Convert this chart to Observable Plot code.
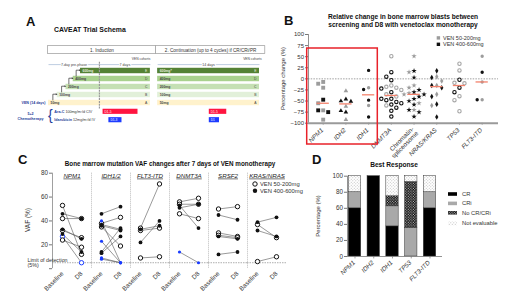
<!DOCTYPE html>
<html><head><meta charset="utf-8">
<script src="https://cdn.jsdelivr.net/npm/d3@7"></script>
<script src="https://cdn.jsdelivr.net/npm/@observablehq/plot@0.6"></script>
<style>
html,body{margin:0;padding:0;background:#fff;}
#root{position:relative;width:520px;height:302px;overflow:hidden;background:#fff;font-family:"Liberation Sans",Arial,sans-serif;}
#root > svg{position:absolute;}
</style></head><body>
<svg width="0" height="0" style="position:absolute">
 <defs>
  <pattern id="chk" width="2.6" height="2.6" patternUnits="userSpaceOnUse">
   <rect width="2.6" height="2.6" fill="#000"/>
   <rect x="0.2" y="0.2" width="1" height="1" fill="#fff"/>
   <rect x="1.5" y="1.5" width="1" height="1" fill="#fff"/>
  </pattern>
  <pattern id="dots" width="3" height="3" patternUnits="userSpaceOnUse">
   <rect width="3" height="3" fill="#fff"/>
   <circle cx="0.8" cy="0.8" r="0.55" fill="#bbb"/>
   <circle cx="2.3" cy="2.3" r="0.55" fill="#bbb"/>
  </pattern>
 </defs>
</svg>
<div id="root"></div>
<script>
const FONT = '"Liberation Sans", Arial, sans-serif';

// ---------- Panel A: CAVEAT schema ----------
const cohortLetters = ["A", "B", "C", "D", "E"];
const inductionDoses = ["50mg", "100mg", "200mg", "400mg", "600mg"];
const continuationDoses = ["50mg", "100mg", "200mg", "400mg", "600mg*"];
const inductionStartDay = [-7, -5.8, -4.6, -3.6, -2.6];
const inductionEndDay = 7;
const continuationStartDay = 8;
const continuationEndDay = 22;
const phaseHeaders = ["1. Induction", "2. Continuation (up to 4 cycles) if CR/CRi/PR"];
const timeSpans = ["7-day pre-phase", "7 days", "14 days"];
const chemoDrugs = ["Ara-C", "Idarubicin"];
const chemoDoseText = ["100mg/m²/d CIV", "12mg/m²/d IV"];
const chemoInductionDays = [[0.5, 5.3], [1.3, 3.1]];
const chemoInductionLabel = ["D1-5", "D1-3"];
const chemoContinuationDays = [[15.1, 17.5], [15.1, 16.5]];
const chemoContinuationLabel = ["D1-5", "D1"];

// ---------- Panel B: relative change in blasts ----------
const catsB = ["NPM1", "IDH2", "IDH1", "DNMT3A", "Chromatin-\nspliceosome", "NRAS/KRAS", "TP53", "FLT3-ITD"];
const lowDoseB = [
  [-7, -11, -20, -55, -71, -92],
  [-27, -62, -92],
  [-20, -60],
  [51, -15, -18, -20, -25, -35, -40, -60],
  [51, 15, -15, -20, -32, -35, -55, -70],
  [5, -5, -15, -35, -60],
  [34, 19, -9, -10, -39, -48, -73],
  [51, -7, -47]
];
const highDoseB = [
  [-47, -71, -75],
  [-46, -50, -51, -72, -75],
  [19, -24, -48, -86],
  [15, 5, -3, -22, -30, -45, -45, -48, -52, -55, -58, -65, -72, -85],
  [18, 3, -25, -30, -35, -40, -45, -50, -58, -70, -75, -85],
  [18, 3, -15, -20, -40, -57, -86],
  [-2, -20, -30],
  [15, -47]
];
const yTicksB = [-100, -75, -50, -25, 0, 25, 50, 75, 100];

// ---------- Panel C: VAF changes ----------
const genesC = ["NPM1", "IDH1/2", "FLT3-ITD", "DNMT3A", "SRSF2", "KRAS/NRAS"];
const vafBaseline = [
  [53, 46, 42, 33, 32, 29, 27, 24],
  [46, 40, 38, 37, 36, 35, 23, 14, 13, 9, 8],
  [34, 33, 32, 22, 9],
  [56, 54, 53, 51, 46, 14],
  [50, 45, 30, 28, 27, 12],
  [39, 37, 32, 6]
];
const vafD8 = [
  [12, 42, 42, 25, 26, 14, 5, 18],
  [52, 5, 43, 33, 32, 19, 5, 34, 27, 5, 5],
  [71, 36, 34, 40, 10],
  [59, 54, 34, 54, 42, 5],
  [52, 41, 27, 26, 25, 14],
  [43, 26, 27, 10]
];
const vafHighDose = [
  [0, 1, 0, 1, 0, 1, 0, 0],
  [1, 1, 0, 1, 1, 0, 1, 1, 1, 1, 1],
  [0, 1, 0, 1, 0],
  [0, 0, 1, 1, 0, 1],
  [0, 1, 0, 0, 1, 1],
  [1, 0, 1, 0]
];
const vafCleared = [
  [0, 0, 0, 0, 0, 0, 1, 0],
  [0, 1, 0, 0, 0, 0, 1, 0, 0, 1, 1],
  [0, 0, 0, 0, 0],
  [0, 0, 0, 0, 0, 1],
  [0, 0, 0, 0, 0, 0],
  [0, 0, 0, 0]
];
const timepointsC = ["Baseline", "D8"];
const yTicksC = [0, 20, 40, 60, 80];
const limitOfDetection = 5;

// ---------- Panel D: best response ----------
const catsD = ["NPM1", "IDH2", "IDH1", "TP53", "FLT3-ITD"];
const respD = ["CR", "CRi", "No CR/CRi", "Not evaluable"];
const crD = [60, 100, 37.5, 0, 60];
const criD = [20, 0, 25, 35.7, 20];
const noCrD = [0, 0, 12.5, 57.1, 0];
const notEvalD = [20, 0, 25, 7.2, 20];
const fillD = ["#000", "#a9a9a9", "url(#chk)", "url(#dots)"];

const root = document.getElementById("root");
function place(svg, left, top) {
  svg.style.left = left + "px";
  svg.style.top = top + "px";
  root.appendChild(svg);
  return svg;
}

// ================= Panel A =================
const venFill = ["#fff2cc", "#e2f0d9", "#c5e0b4", "#a9d18e", "#548235"];
const rowOf = i => 4 - i;
const venBars = [];
cohortLetters.forEach((c, i) => {
  venBars.push({i, row: rowOf(i), x1: inductionStartDay[i], x2: inductionEndDay, dose: inductionDoses[i], letter: c});
  venBars.push({i, row: rowOf(i), x1: continuationStartDay, x2: continuationEndDay, dose: continuationDoses[i], letter: c});
});
const headerRow = -2.62, spanRow = -0.8, cohortLabelRow = -1.45;
const headers = [
  {t: phaseHeaders[0], x1: inductionStartDay[0] - 0.05, x2: (inductionEndDay + continuationStartDay) / 2 + 0.25},
  {t: phaseHeaders[1], x1: (inductionEndDay + continuationStartDay) / 2 + 0.25, x2: continuationEndDay + 0.8}
];
const spans = [
  {t: timeSpans[0], x1: inductionStartDay[0], x2: 0},
  {t: timeSpans[1], x1: 0, x2: inductionEndDay},
  {t: timeSpans[2], x1: continuationStartDay, x2: continuationEndDay}
];
const chemoRows = [5.1, 6.15];
const chemoBars = [];
chemoDrugs.forEach((d, k) => {
  chemoBars.push({k, row: chemoRows[k], x1: chemoInductionDays[k][0], x2: chemoInductionDays[k][1], lab: chemoInductionLabel[k]});
  chemoBars.push({k, row: chemoRows[k], x1: chemoContinuationDays[k][0], x2: chemoContinuationDays[k][1], lab: chemoContinuationLabel[k]});
});
const arrowPts = [], arrowHeads = [];
for (let i = 1; i < 5; i++) {
  const s = inductionStartDay[i], r = rowOf(i);
  arrowPts.push({a: i, x: s - 0.6, y: r + 0.62}, {a: i, x: s - 0.6, y: r - 0.1}, {a: i, x: s - 0.2, y: r - 0.1});
  arrowHeads.push({x: s - 0.12, y: r - 0.1});
}
const blueTxt = "#1f3c9a";
const plotA = Plot.plot({
  width: 270, height: 130, margin: 0,
  x: {domain: [-7, 22], range: [48, 259], axis: null},
  y: {domain: [-8.8125, 7.4375], range: [0, 130], axis: null},
  color: {type: "identity"},
  style: {fontFamily: FONT, fontSize: "4px", background: "transparent", overflow: "visible", color: "#333"},
  marks: [
    Plot.rect(headers, {x1: "x1", x2: "x2", y1: () => headerRow - 0.48, y2: () => headerRow + 0.48, fill: "white", stroke: "#888", strokeWidth: 0.6}),
    Plot.text(headers, {x: d => (d.x1 + d.x2) / 2, y: () => headerRow, text: "t", fontSize: 4.6, fill: "#333"}),
    Plot.link(spans, {x1: "x1", x2: "x2", y1: () => spanRow, y2: () => spanRow, stroke: "#7d9cc4", strokeWidth: 0.5}),
    Plot.text(spans, {x: d => (d.x1 + d.x2) / 2, y: () => spanRow, text: "t", fontSize: 3.6, fill: "#444", stroke: "white", strokeWidth: 2}),
    Plot.text([inductionEndDay, continuationEndDay + 0.3], {x: d => d, y: () => cohortLabelRow, text: () => "VEN cohorts", textAnchor: "end", fontSize: 3.3, fill: "#444"}),
    Plot.rect(venBars, {x1: "x1", x2: "x2", y1: d => d.row - 0.34, y2: d => d.row + 0.34, fill: d => venFill[d.i]}),
    Plot.text(venBars, {x: "x1", y: "row", text: "dose", dx: 2, textAnchor: "start", fontSize: 3.4, fontWeight: "bold", fill: d => d.i === 4 ? "#e6efdc" : "#444"}),
    Plot.text(venBars, {x: "x2", y: "row", text: "letter", dx: -3, textAnchor: "end", fontSize: 3.4, fill: d => d.i === 4 ? "#e6efdc" : "#444"}),
    Plot.ruleX([0], {y1: () => -1.1, y2: () => 4.8, stroke: "#9a9a9a", strokeWidth: 1.2, strokeDasharray: "2,0.8"}),
    Plot.line(arrowPts, {x: "x", y: "y", z: "a", stroke: "#333", strokeWidth: 0.7}),
    Plot.dot(arrowHeads, {x: "x", y: "y", symbol: "triangle2", rotate: 90, r: 0.9, fill: "#333"}),
    Plot.text(["VEN (14 days)"], {x: () => -7.41, y: () => 4, text: d => d, textAnchor: "end", fontSize: 3.6, fontWeight: "bold", fill: blueTxt}),
    Plot.text(["5+2\nChemotherapy"], {x: () => -9.47, y: () => 5.62, text: d => d, fontSize: 3.7, fontWeight: "bold", fill: blueTxt, lineHeight: 1.4}),
    Plot.text(["{"], {x: () => -6.75, y: () => 5.62, text: d => d, fontSize: 14, fill: blueTxt, fontWeight: "200"}),
    Plot.text(chemoDrugs, {x: () => -6.2, y: (d, k) => chemoRows[k], text: (d, k) => d + " " + chemoDoseText[k], textAnchor: "start", fontSize: 3.7, fill: "#333"}),
    Plot.rect(chemoBars, {x1: "x1", x2: "x2", y1: d => d.row - 0.32, y2: d => d.row + 0.32, fill: d => d.k === 0 ? "#ff1540" : "#1d3cff"}),
    Plot.text(chemoBars, {x: "x1", y: "row", text: "lab", dx: 1.5, textAnchor: "start", fontSize: 3.2, fill: "white"})
  ]
});
place(plotA, 0, 0);
// mixed-style chemo labels (drug name bold blue)
d3.select(plotA).selectAll("text").each(function () {
  const s = this.textContent;
  chemoDrugs.forEach((d, k) => {
    if (s === d + " " + chemoDoseText[k]) {
      const t = d3.select(this);
      t.text(null);
      t.append("tspan").attr("font-weight", "bold").attr("fill", blueTxt).text(d);
      t.append("tspan").text(" " + chemoDoseText[k]);
    }
  });
});

// ================= Panel B =================
const pxPerCatB = 22.71, pxPerUnitB = 0.4435;
const ptsB = [];
catsB.forEach((c, i) => {
  const pts = [...lowDoseB[i].map(v => ({v, hi: false})), ...highDoseB[i].map(v => ({v, hi: true}))].sort((a, b) => b.v - a.v);
  const placed = [];
  for (const p of pts) {
    p.off = 0;
    for (const off of [0, -5, 5, -10, 10, -14, 14]) {
      if (placed.every(q => Math.abs(q.off - off) >= 4.6 || Math.abs(q.v - p.v) * pxPerUnitB >= 4.6)) { p.off = off; break; }
    }
    placed.push(p);
    ptsB.push({c: i, v: p.v, hi: p.hi, x: i + p.off / pxPerCatB});
  }
});
const medB = catsB.map((c, i) => ({i, m: d3.median([...lowDoseB[i], ...highDoseB[i]])}));
const symB = ["square", "triangle", "circle", "circle", "star", "diamond", "circle", "circle"];
const openB = [false, false, false, true, false, false, true, false];
const xDomB = [-0.647, 7.719];
const plotB = Plot.plot({
  width: 260, height: 160,
  marginLeft: 48, marginRight: 22, marginTop: 34, marginBottom: 37.3,
  x: {domain: xDomB, axis: null},
  y: {domain: [-100, 100]},
  color: {type: "identity"},
  style: {fontFamily: FONT, fontSize: "6px", background: "transparent", overflow: "visible", color: "#333"},
  marks: [
    Plot.ruleY([0], {stroke: "#777", strokeWidth: 0.7, strokeDasharray: "1.5,1.2"}),
    Plot.ruleX([xDomB[0]], {y1: () => -100, y2: () => 100, stroke: "#777", strokeWidth: 0.8}),
    Plot.axisY({ticks: yTicksB, tickSize: 3, tickPadding: 1.5, label: null, fontSize: 6, stroke: "#777"}),
    Plot.ruleY([-100], {stroke: "#9a9a9a", strokeWidth: 2}),
    Plot.ruleX(d3.range(catsB.length), {y1: () => -100, y2: () => -105, stroke: "#999", strokeWidth: 0.7}),
    Plot.dot(ptsB.filter(d => d.c === 0), {x: "x", y: "v", symbol: "square", r: 2.2, fill: d => d.hi ? "#111" : "#9c9c9c"}),
    Plot.dot(ptsB.filter(d => d.c !== 0 && !openB[d.c]), {x: "x", y: "v", symbol: d => symB[d.c], r: 1.7, fill: d => d.hi ? "#111" : "#9c9c9c"}),
    Plot.dot(ptsB.filter(d => openB[d.c]), {x: "x", y: "v", symbol: "circle", r: 1.7, fill: "white", stroke: d => d.hi ? "#111" : "#a6a6a6", strokeWidth: 1.1}),
    Plot.ruleY(medB, {x1: d => d.i - 0.27, x2: d => d.i + 0.27, y: "m", stroke: "#f3826c", strokeWidth: 1.3}),
    Plot.text(d3.range(catsB.length).filter(i => !catsB[i].includes("\n")), {x: i => i, y: () => -100, text: i => catsB[i], rotate: -45, textAnchor: "end", dy: 6, dx: -1, fontStyle: "italic", fontSize: 6.3}),
    Plot.text(d3.range(catsB.length).filter(i => catsB[i].includes("\n")), {x: i => i, y: () => -100, text: i => catsB[i], rotate: -45, textAnchor: "end", dy: 7, dx: 1, fontSize: 6.3})
  ]
});
place(plotB, 260, 0);

// ================= Panel C =================
const vafRows = [], vafPts = [];
genesC.forEach((g, k) => {
  vafBaseline[k].forEach((b, j) => {
    const row = {gene: g, b, d: vafD8[k][j], hi: !!vafHighDose[k][j], cl: !!vafCleared[k][j]};
    vafRows.push(row);
    vafPts.push({gene: g, t: timepointsC[0], v: row.b, hi: row.hi, cl: row.cl});
    vafPts.push({gene: g, t: timepointsC[1], v: row.d, hi: row.hi, cl: row.cl});
  });
});
const colC = d => d.cl ? "#1a3cff" : "#111";
const plotC = Plot.plot({
  width: 310, height: 152,
  marginLeft: 50, marginRight: 22, marginTop: 22.7, marginBottom: 33.8,
  fx: {domain: genesC, padding: 0, axis: null},
  x: {domain: timepointsC, type: "point", padding: 0.5},
  y: {domain: [0, 80]},
  color: {type: "identity"},
  style: {fontFamily: FONT, fontSize: "6.3px", background: "transparent", overflow: "visible", color: "#333"},
  marks: [
    Plot.ruleY([limitOfDetection], {stroke: "#999", strokeWidth: 0.8, strokeDasharray: "1.5,1"}),
    Plot.ruleX(genesC.slice(0, -1), {fx: d => d, x: () => timepointsC[1], dx: 10, stroke: "#aaa", strokeWidth: 0.8, strokeDasharray: "1,1"}),
    Plot.ruleX([genesC[0]], {fx: d => d, x: () => timepointsC[0], dx: -10, y1: () => 0, y2: () => 80, stroke: "#888", strokeWidth: 0.8}),
    Plot.axisY({ticks: yTicksC, tickFormat: d => d === 0 ? "" : d, tickSize: 3, tickPadding: 1.5, label: null, stroke: "#777"}),
    Plot.axisX({tickRotate: -45, tickSize: 0, tickPadding: 4, label: null, fontSize: 6.3}),
    Plot.link(vafRows, {fx: "gene", x1: () => timepointsC[0], x2: () => timepointsC[1], y1: "b", y2: "d", stroke: "#555", strokeWidth: 0.6}),
    Plot.dot(vafPts.filter(d => !d.hi), {fx: "gene", x: "t", y: "v", r: 2.2, fill: "white", stroke: colC, strokeWidth: 1}),
    Plot.dot(vafPts.filter(d => d.hi && !d.cl), {fx: "gene", x: "t", y: "v", r: 1.9, fill: colC}),
    Plot.dot(vafPts.filter(d => d.hi && d.cl), {fx: "gene", x: "t", y: "v", r: 1.6, fill: colC}),
    Plot.text(genesC, {fx: d => d, frameAnchor: "top", text: d => d, fontStyle: "italic", fontSize: 6.2, fill: "#222"}),
    Plot.text([genesC[0]], {fx: d => d, frameAnchor: "left", y: () => limitOfDetection, text: () => "Limit of detection\n(5%)", dx: -25, fontSize: 5.3, fill: "#333"})
  ]
});
place(plotC, 0, 150);
d3.select(plotC).selectAll("text").filter(function () { return genesC.includes(this.textContent); })
  .style("text-decoration", "underline");

// ================= Panel D =================
const stackD = [];
const seriesD = [crD, criD, noCrD, notEvalD];
catsD.forEach((c, i) => {
  let y0 = 0;
  respD.forEach((r, k) => {
    const v = seriesD[k][i];
    if (v > 0) stackD.push({i, r, y1: y0, y2: y0 + v});
    y0 += v;
  });
});
const xDomD = [-0.4, 4.667];
const plotD = Plot.plot({
  width: 210, height: 152,
  marginLeft: 37, marginRight: 78, marginTop: 25.7, marginBottom: 46,
  x: {domain: xDomD, axis: null},
  y: {domain: [0, 100]},
  color: {domain: respD, range: fillD},
  style: {fontFamily: FONT, fontSize: "6.3px", background: "transparent", overflow: "visible", color: "#333"},
  marks: [
    Plot.rect(stackD, {x1: d => d.i - 0.33, x2: d => d.i + 0.33, y1: "y1", y2: "y2", fill: "r", stroke: "#333", strokeWidth: 0.5}),
    Plot.ruleX([xDomD[0]], {y1: () => 0, y2: () => 100, stroke: "#777", strokeWidth: 0.8}),
    Plot.ruleY([0], {stroke: "#777", strokeWidth: 0.8}),
    Plot.axisY({ticks: d3.range(0, 101, 20), tickSize: 3, tickPadding: 1.5, label: null, stroke: "#777"}),
    Plot.ruleX(d3.range(catsD.length), {y1: () => 0, y2: () => -3, stroke: "#777", strokeWidth: 0.7}),
    Plot.text(d3.range(catsD.length), {x: i => i, y: () => 0, text: i => catsD[i], rotate: -45, textAnchor: "end", dy: 5, dx: -1, fontStyle: "italic", fontSize: 6.3})
  ]
});
place(plotD, 310, 150);

// ================= Overlay: panel letters, titles, axis labels, legends =================
const ov = d3.select(root).append("svg").attr("width", 520).attr("height", 302)
  .style("left", "0px").style("top", "0px").style("font-family", FONT).style("pointer-events", "none");
function txt(s, x, y, size, opts = {}) {
  const t = ov.append("text").attr("x", x).attr("y", y).attr("font-size", size)
    .attr("font-weight", opts.bold ? "bold" : null).attr("text-anchor", opts.anchor || "start")
    .attr("fill", opts.fill || "#111").text(s);
  if (opts.rotate) t.attr("transform", `rotate(${opts.rotate},${x},${y})`);
  return t;
}
txt("A", 26, 25.5, 13, {bold: true});
txt("B", 284, 24.5, 13, {bold: true});
txt("C", 18, 163.5, 13, {bold: true});
txt("D", 312, 163.5, 13, {bold: true});
txt("CAVEAT Trial Schema", 54, 31.5, 6.9, {bold: true});
txt("Relative change in bone marrow blasts between", 403, 18.5, 6.6, {bold: true, anchor: "middle"});
txt("screening and D8 with venetoclax monotherapy", 403, 26.5, 6.6, {bold: true, anchor: "middle"});
txt("Bone marrow mutation VAF changes after 7 days of VEN monotherapy", 170, 165.5, 6.3, {bold: true, anchor: "middle"});
txt("Best Response", 394, 167, 6.6, {bold: true, anchor: "middle"});
txt("Percentage change (%)", 285, 78.5, 6, {anchor: "middle", rotate: -90, fill: "#333"});
txt("VAF (%)", 30, 220, 6.5, {anchor: "middle", rotate: -90, fill: "#333"});
txt("Percentage (%)", 319.5, 216, 6, {anchor: "middle", rotate: -90, fill: "#333"});
// legend B
ov.append("rect").attr("x", 436.7).attr("y", 36.2).attr("width", 3.4).attr("height", 3.4).attr("fill", "#9c9c9c");
ov.append("rect").attr("x", 436.7).attr("y", 42.6).attr("width", 3.4).attr("height", 3.4).attr("fill", "#111");
txt("VEN 50-200mg", 443, 39.9, 5.5, {fill: "#333"});
txt("VEN 400-600mg", 443, 46.3, 5.5, {fill: "#333"});
// legend C
ov.append("circle").attr("cx", 255).attr("cy", 184).attr("r", 2.2).attr("fill", "white").attr("stroke", "#111").attr("stroke-width", 1);
ov.append("circle").attr("cx", 255).attr("cy", 190.8).attr("r", 2.2).attr("fill", "#111");
txt("VEN 50-200mg", 260, 186, 5.8, {fill: "#333"});
txt("VEN 400-600mg", 260, 192.8, 5.8, {fill: "#333"});
// legend D
const legY = [192.2, 201.6, 211, 221.6];
respD.forEach((r, k) => {
  ov.append("rect").attr("x", 448).attr("y", legY[k]).attr("width", 9).attr("height", 3.6).attr("fill", fillD[k]);
  txt(r, 462, legY[k] + 3.6, 5.8, {fill: "#333"});
});
// highlight box in B
ov.append("rect").attr("x", 306.7).attr("y", 48).attr("width", 70.6).attr("height", 96)
  .attr("fill", "none").attr("stroke", "#e8222a").attr("stroke-width", 1.5);
</script>
</body></html>
